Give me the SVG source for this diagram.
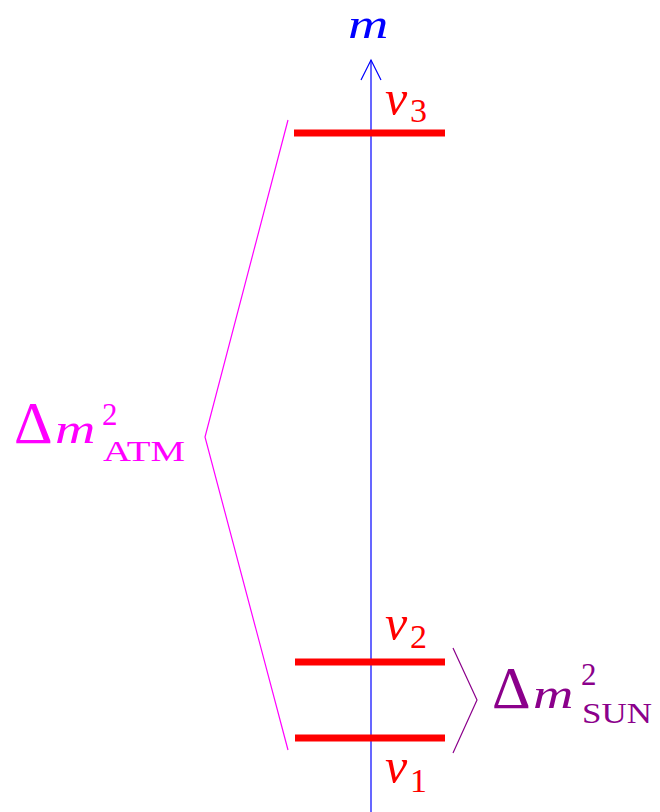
<svg xmlns="http://www.w3.org/2000/svg" width="660" height="812" viewBox="0 0 660 812">
<style>
.lvl{stroke:#ff0000;stroke-width:7;fill:none}
text{font-family:"Liberation Serif",serif}
.nu{fill:#ff0000;font-style:italic;font-size:50px}
.nsub{fill:#ff0000;font-size:34px}
.mi{font-style:italic;font-size:43px}
.delta{font-size:60px}
.sup{font-size:31px}
.subc{font-size:30px}
</style>
<rect width="660" height="812" fill="#ffffff"/>
<g id="connectors">
<line x1="371" y1="812" x2="371" y2="60" stroke="#0000ff" stroke-width="1.2"/>
<polyline points="361,80 371,60 381,80" stroke="#0000ff" stroke-width="1.2" fill="none"/>
<polyline id="atm-bracket" points="288,120 205,437 288,750" stroke="#ff00ff" stroke-width="1.2" fill="none"/>
<polyline id="sun-bracket" points="453,648 477,700 453,753" stroke="#8b008b" stroke-width="1.2" fill="none"/>
</g>
<g id="axis-label"><text class="mi" transform="translate(348,38) scale(1.3,1)" fill="#0000ff">m</text></g>
<g id="nu3"><line class="lvl" x1="294" y1="133" x2="445" y2="133"/><text class="nu" x="385" y="115">ν</text><text class="nsub" x="410" y="122">3</text></g>
<g id="nu2"><line class="lvl" x1="295" y1="662" x2="445" y2="662"/><text class="nu" x="385" y="640">ν</text><text class="nsub" x="410" y="648">2</text></g>
<g id="nu1"><line class="lvl" x1="295" y1="738" x2="445" y2="738"/><text class="nu" x="385" y="783">ν</text><text class="nsub" x="410" y="792">1</text></g>
<g id="atm-label" fill="#ff00ff"><text class="delta" x="14" y="443">Δ</text><text class="mi" transform="translate(55,443) scale(1.3,1)">m</text><text class="sup" x="102" y="425">2</text><text class="subc" x="103" y="461" textLength="82" lengthAdjust="spacingAndGlyphs">ATM</text></g>
<g id="sun-label" fill="#8b008b"><text class="delta" x="492" y="708">Δ</text><text class="mi" transform="translate(533,708) scale(1.3,1)">m</text><text class="sup" x="581" y="685">2</text><text class="subc" x="582" y="723" textLength="70" lengthAdjust="spacingAndGlyphs">SUN</text></g>
</svg>
